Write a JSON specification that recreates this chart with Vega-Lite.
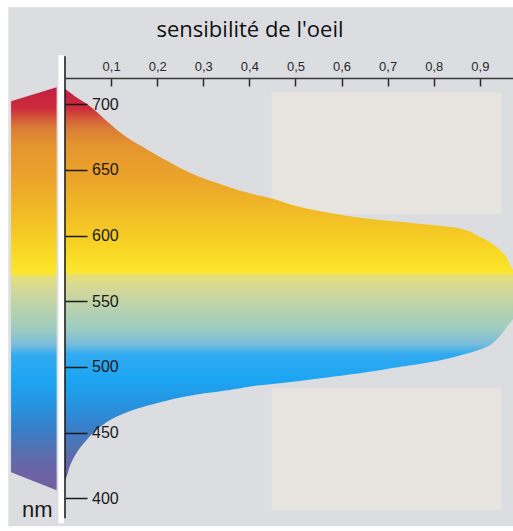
{
  "$schema": "https://vega.github.io/schema/vega-lite/v6.json",
  "width": 448,
  "height": 440,
  "autosize": {"type": "none"},
  "padding": {"left": 65, "top": 78, "right": 0, "bottom": 13},
  "background": "#ffffff",
  "config": {"view": {"stroke": null}},
  "title": {
    "text": "sensibilité de l'oeil",
    "font": "Open Sans",
    "fontSize": 22,
    "fontWeight": "normal",
    "color": "#111111",
    "anchor": "middle",
    "dx": -39,
    "offset": -52,
    "baseline": "alphabetic"
  },
  "datasets": {
    "bg": [{"x": -0.123, "x2": 1.0, "y": 773.9, "y2": 378.7}],
    "panels": [
      {"x": 0.448, "x2": 0.947, "y": 709, "y2": 616.2},
      {"x": 0.448, "x2": 0.947, "y": 483.8, "y2": 390.9}
    ],
    "bar": [{"x": -0.0143, "x2": -0.0024, "y": 737.3, "y2": 381}],
    "strip": [
      {"s": -0.117, "top": 702.3, "bottom": 419.8},
      {"s": -0.0182, "top": 712.9, "bottom": 406.1}
    ],
    "curve": [
      {"nm": 414, "s": 0},
      {"nm": 417, "s": 0.004},
      {"nm": 424, "s": 0.01},
      {"nm": 434, "s": 0.024},
      {"nm": 444, "s": 0.046},
      {"nm": 454, "s": 0.075},
      {"nm": 462, "s": 0.111},
      {"nm": 468, "s": 0.154},
      {"nm": 473, "s": 0.205},
      {"nm": 478.5, "s": 0.277},
      {"nm": 482, "s": 0.349},
      {"nm": 486, "s": 0.422},
      {"nm": 489, "s": 0.5},
      {"nm": 492.5, "s": 0.58},
      {"nm": 496, "s": 0.653},
      {"nm": 500, "s": 0.725},
      {"nm": 504, "s": 0.798},
      {"nm": 510, "s": 0.87},
      {"nm": 515, "s": 0.913},
      {"nm": 523, "s": 0.942},
      {"nm": 533, "s": 0.964},
      {"nm": 544, "s": 0.99},
      {"nm": 555, "s": 1.0},
      {"nm": 566, "s": 0.99},
      {"nm": 576, "s": 0.968},
      {"nm": 585, "s": 0.955},
      {"nm": 592.5, "s": 0.932},
      {"nm": 600, "s": 0.895},
      {"nm": 605.5, "s": 0.856},
      {"nm": 608, "s": 0.797},
      {"nm": 610.5, "s": 0.725},
      {"nm": 613, "s": 0.653},
      {"nm": 617, "s": 0.58},
      {"nm": 622, "s": 0.508},
      {"nm": 628, "s": 0.451},
      {"nm": 633, "s": 0.393},
      {"nm": 639.5, "s": 0.335},
      {"nm": 647, "s": 0.277},
      {"nm": 656, "s": 0.226},
      {"nm": 666, "s": 0.176},
      {"nm": 675, "s": 0.133},
      {"nm": 685.5, "s": 0.096},
      {"nm": 700.5, "s": 0.046},
      {"nm": 706, "s": 0.022},
      {"nm": 711.8, "s": 0}
    ],
    "axisline": [{"x": 0, "y": 736.5, "y2": 384.8}],
    "unit": [{"x": -0.06, "y": 385.8, "label": "nm"}]
  },
  "layer": [
    {
      "data": {"name": "bg"},
      "mark": {"type": "rect", "color": "#dcdde1"},
      "encoding": {
        "x": {"field": "x", "type": "quantitative", "scale": {"domain": [0, 0.972], "nice": false, "zero": false},
          "axis": {
            "orient": "top",
            "zindex": 2,
            "values": [0.1, 0.2, 0.3, 0.4, 0.5, 0.6, 0.7, 0.8, 0.9],
            "labelExpr": "replace(format(datum.value, '.1f'), '.', ',')",
            "title": null,
            "grid": false,
            "domainColor": "#3a3a3a",
            "domainWidth": 1.5,
            "tickColor": "#2a2a2a",
            "tickWidth": 1.5,
            "tickSize": -8,
            "labelPadding": 13,
            "labelFont": "Liberation Sans",
            "labelFontSize": 13,
            "labelColor": "#2a2a2a",
            "labelFlush": false
          }},
        "x2": {"field": "x2"},
        "y": {"field": "y", "type": "quantitative", "scale": {"domain": [385, 720], "nice": false, "zero": false},
          "axis": {
            "orient": "left",
            "zindex": 2,
            "values": [400, 450, 500, 550, 600, 650, 700],
            "title": null,
            "grid": false,
            "domain": false,
            "tickColor": "#1a1a1a",
            "tickWidth": 1.5,
            "tickSize": -22,
            "labelPadding": -4.5,
            "labelAlign": "left",
            "labelFont": "Liberation Sans",
            "labelFontSize": 16,
            "labelColor": "#1a1a1a",
            "labelFlush": false
          }},
        "y2": {"field": "y2"}
      }
    },
    {
      "data": {"name": "panels"},
      "mark": {"type": "rect", "color": "#e8e5e1"},
      "encoding": {
        "x": {"field": "x", "type": "quantitative"},
        "x2": {"field": "x2"},
        "y": {"field": "y", "type": "quantitative"},
        "y2": {"field": "y2"}
      }
    },
    {
      "data": {"name": "bar"},
      "mark": {"type": "rect", "color": "#ffffff"},
      "encoding": {
        "x": {"field": "x", "type": "quantitative"},
        "x2": {"field": "x2"},
        "y": {"field": "y", "type": "quantitative"},
        "y2": {"field": "y2"}
      }
    },
    {
      "data": {"name": "strip"},
      "mark": {
        "type": "area",
        "orient": "vertical",
        "color": {
          "gradient": "linear", "x1": 0, "y1": 0, "x2": 0, "y2": 1,
          "stops": [
            {"offset": 0.0, "color": "#c41e44"},
            {"offset": 0.052, "color": "#cc2c3c"},
            {"offset": 0.077, "color": "#d4583a"},
            {"offset": 0.1, "color": "#da7c36"},
            {"offset": 0.144, "color": "#e4952f"},
            {"offset": 0.231, "color": "#eca52a"},
            {"offset": 0.318, "color": "#f2bd26"},
            {"offset": 0.392, "color": "#f7d324"},
            {"offset": 0.449, "color": "#fbe42a"},
            {"offset": 0.462, "color": "#fbe630"},
            {"offset": 0.469, "color": "#e6df78"},
            {"offset": 0.504, "color": "#d3d89a"},
            {"offset": 0.553, "color": "#b6d2ae"},
            {"offset": 0.603, "color": "#9ccbc2"},
            {"offset": 0.64, "color": "#78bcdc"},
            {"offset": 0.665, "color": "#30aaf0"},
            {"offset": 0.727, "color": "#1ca5f2"},
            {"offset": 0.789, "color": "#2694e0"},
            {"offset": 0.851, "color": "#3a7ec8"},
            {"offset": 0.901, "color": "#5470b0"},
            {"offset": 0.95, "color": "#6a64a6"},
            {"offset": 1.0, "color": "#7460a0"}
          ]
        }
      },
      "encoding": {
        "x": {"field": "s", "type": "quantitative"},
        "y": {"field": "top", "type": "quantitative"},
        "y2": {"field": "bottom"}
      }
    },
    {
      "data": {"name": "curve"},
      "mark": {
        "type": "area",
        "orient": "horizontal",
        "interpolate": "monotone",
        "color": {
          "gradient": "linear", "x1": 0, "y1": 0, "x2": 0, "y2": 1,
          "stops": [
            {"offset": 0.0, "color": "#c41e44"},
            {"offset": 0.05, "color": "#cc2c3c"},
            {"offset": 0.075, "color": "#d4583a"},
            {"offset": 0.101, "color": "#da7c36"},
            {"offset": 0.144, "color": "#e4952f"},
            {"offset": 0.233, "color": "#eca52a"},
            {"offset": 0.322, "color": "#f2bd26"},
            {"offset": 0.399, "color": "#f7d324"},
            {"offset": 0.457, "color": "#fbe42a"},
            {"offset": 0.47, "color": "#fbe630"},
            {"offset": 0.477, "color": "#e6df78"},
            {"offset": 0.513, "color": "#d3d89a"},
            {"offset": 0.564, "color": "#b6d2ae"},
            {"offset": 0.615, "color": "#9ccbc2"},
            {"offset": 0.653, "color": "#78bcdc"},
            {"offset": 0.679, "color": "#30aaf0"},
            {"offset": 0.743, "color": "#1ca5f2"},
            {"offset": 0.806, "color": "#2694e0"},
            {"offset": 0.87, "color": "#3a7ec8"},
            {"offset": 0.921, "color": "#5470b0"},
            {"offset": 0.972, "color": "#6a64a6"},
            {"offset": 1.0, "color": "#7060a2"}
          ]
        }
      },
      "encoding": {
        "y": {"field": "nm", "type": "quantitative"},
        "x": {"field": "s", "type": "quantitative", "stack": null}
      }
    },
    {
      "data": {"name": "axisline"},
      "mark": {"type": "rule", "color": "#1a1a1a", "strokeWidth": 1.5},
      "encoding": {
        "x": {"field": "x", "type": "quantitative"},
        "y": {"field": "y", "type": "quantitative"},
        "y2": {"field": "y2"}
      }
    },
    {
      "data": {"name": "unit"},
      "mark": {"type": "text", "font": "Liberation Sans", "fontSize": 22, "color": "#1a1a1a", "align": "center", "baseline": "alphabetic"},
      "encoding": {
        "x": {"field": "x", "type": "quantitative"},
        "y": {"field": "y", "type": "quantitative"},
        "text": {"field": "label"}
      }
    }
  ]
}
